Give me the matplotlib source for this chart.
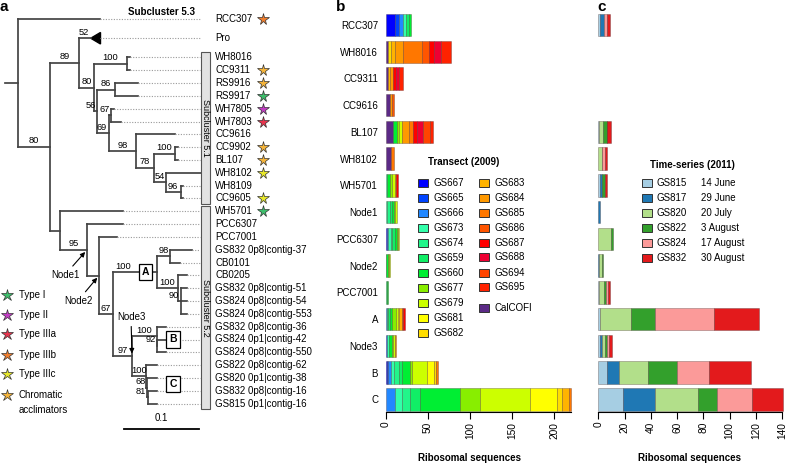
import numpy as np
import matplotlib.pyplot as plt
from matplotlib.patches import Rectangle, Polygon

plt.rcParams['font.family'] = ['Liberation Sans', 'DejaVu Sans']

W, H = 788, 463

# ---------------- bar data ----------------
rows = ['RCC307', 'WH8016', 'CC9311', 'CC9616', 'BL107', 'WH8102', 'WH5701',
        'Node1', 'PCC6307', 'Node2', 'PCC7001', 'A', 'Node3', 'B', 'C']

# transect 2009, ribosomal sequences per station, row order as above
calcofi = [0, 3, 2.4, 5, 9, 6, 0, 0, 0, 0, 0, 0, 0, 0, 0]
gs667 = [11, 0, 0, 0, 0, 0, 0, 0, 1, 0.5, 0, 0, 0, 1, 0]
gs665 = [4.5, 0, 0, 0, 0, 0, 0, 0, 0, 0, 0, 0, 2, 1.4, 0]
gs666 = [5, 0, 0, 0, 0, 0, 0, 0, 2, 0, 0, 1, 0, 3.5, 11]
gs673 = [4, 0, 0, 0, 0, 0, 2, 2, 3, 0, 0, 0, 2, 4, 8]
gs674 = [0, 0, 0, 0, 0, 0, 0, 3, 2, 0, 0, 2, 0, 6, 10]
gs659 = [3, 0, 0, 0, 0, 0, 0, 2, 3, 0, 1.2, 2, 0, 4, 12]
gs660 = [2, 0, 0, 0, 4.7, 0, 3, 3, 2, 2, 2, 3, 3, 8.6, 47]
gs677 = [0, 0, 0, 0, 2, 0, 3, 1.5, 1.5, 1, 0, 4, 2, 3, 24]
gs679 = [0, 0, 0, 0, 4, 0, 2.5, 1.5, 1.7, 1.6, 0, 3, 1.5, 17, 59]
gs681 = [0, 0, 0, 0, 0, 0, 0, 0, 0, 0, 0, 1, 0, 9, 32]
gs682 = [0, 3, 0, 0, 0, 0, 0, 0, 0, 0, 0, 0, 0, 2.4, 6]
gs683 = [0, 5, 2.8, 0, 0, 0, 1.5, 0, 0, 0, 0, 3, 0, 0, 8]
gs684 = [0, 10, 3, 3, 8.3, 0, 0, 0, 0, 0, 0, 0, 1.8, 0, 0]
gs685 = [0, 22, 0, 0, 4, 4, 0, 0, 0, 0, 0, 0, 0, 2, 3]
gs686 = [0, 8, 0, 2, 0, 0, 0, 0, 0, 0, 0, 2, 0, 0, 0]
gs687 = [0, 6, 4, 0, 4.7, 0, 2, 0, 0, 0, 0, 1.7, 0, 0, 0]
gs688 = [0, 9, 4, 0, 8, 0, 0, 0, 0, 0, 0, 0, 0, 0, 0]
gs694 = [0, 0, 0, 0, 8, 0, 0, 0, 0, 0, 0, 0, 0, 0, 0]
gs695 = [0, 11, 4.3, 0, 4, 0, 0, 0, 0, 0, 0, 0, 0, 0, 0]

transect_names = ['CalCOFI', 'GS667', 'GS665', 'GS666', 'GS673', 'GS674', 'GS659',
                  'GS660', 'GS677', 'GS679', 'GS681', 'GS682', 'GS683', 'GS684',
                  'GS685', 'GS686', 'GS687', 'GS688', 'GS694', 'GS695']
transect_values = [calcofi, gs667, gs665, gs666, gs673, gs674, gs659, gs660, gs677,
                   gs679, gs681, gs682, gs683, gs684, gs685, gs686, gs687, gs688,
                   gs694, gs695]
transect_colors = ['#5B2A86', '#0000FF', '#0044FF', '#2288FF', '#33FFAA', '#22F58A',
                   '#11EE66', '#00EE33', '#88EE00', '#CCFF00', '#FFFF00', '#FFDD00',
                   '#FFB300', '#FF9900', '#FF7700', '#FF5500', '#FF0000', '#EE0033',
                   '#FF4400', '#FF2200']

# time-series 2011
gs815 = [1.5, 0, 0, 0, 0.5, 0, 1.5, 0, 0, 0, 0.5, 1.3, 1.3, 6.9, 19]
gs817 = [2.5, 0, 0, 0, 0, 0, 1.5, 1, 0, 0.6, 0, 0, 1.3, 9.1, 24.4]
gs820 = [0, 0, 0, 0, 3, 2.5, 0, 0, 10, 2.2, 4, 23.4, 2.5, 21.6, 32.7]
gs822 = [0, 0, 0, 0, 3, 0.5, 2, 0, 1, 1, 1.5, 18.3, 1.3, 22.6, 14]
gs824 = [2.5, 0, 0, 0, 0.5, 2, 0, 0, 0, 0, 1.4, 44.7, 2, 24.4, 26.6]
gs832 = [2.5, 0, 0, 0, 3, 2, 2, 0, 0, 0, 1.5, 34.8, 2.3, 31.5, 24.1]

series_names = ['GS815', 'GS817', 'GS820', 'GS822', 'GS824', 'GS832']
series_dates = ['14 June', '29 June', '20 July', '3 August', '17 August', '30 August']
series_values = [gs815, gs817, gs820, gs822, gs824, gs832]
series_colors = ['#A6CEE3', '#1F78B4', '#B2DF8A', '#33A02C', '#FB9A99', '#E31A1C']


# ---------------- tree data ----------------
def leaf(name, bl, support=None, span=1, collapsed=False):
    return {'name': name, 'bl': bl, 'support': support, 'span': span,
            'collapsed': collapsed, 'kids': [], 'box': None, 'tag': None}


def clade(bl, support, *kids, box=None, tag=None):
    return {'name': None, 'bl': bl, 'support': support, 'kids': list(kids),
            'box': box, 'tag': tag, 'collapsed': False}


tree = clade(0, None,
    leaf('RCC307', 0.109),
    clade(0.043, 80,
        clade(0.039, 89,
            leaf('Pro', 0.015, support=52, span=2, collapsed=True),
            clade(0.019, 80,
                clade(0.045, 100, leaf('WH8016', 0.004), leaf('CC9311', 0.004)),
                clade(0.005, 56,
                    clade(0.023, 86, leaf('RS9916', 0.031), leaf('RS9917', 0.031)),
                    clade(0.015, 69,
                        clade(0.003, 67, leaf('WH7805', 0.004), leaf('WH7803', 0.013)),
                        clade(0.036, 98,
                            leaf('CC9616', 0.053),
                            clade(0.024, 78,
                                clade(0.029, 100, leaf('CC9902', 0.003), leaf('BL107', 0.003)),
                                clade(0.016, 54,
                                    leaf('WH8102', 0.047),
                                    clade(0.02, 96, leaf('WH8109', 0.003),
                                          leaf('CC9605', 0.003))))))))),
        clade(0.013, None,
            leaf('WH5701', 0.084),
            clade(0.036, 95,
                leaf('PCC6307', 0.048),
                clade(0.016, None,
                    leaf('PCC7001', 0.024),
                    clade(0.019, 67,
                        clade(0.059, 100,
                            clade(0.017, 98, leaf('GS832 0p8|contig-37', 0.029),
                                  leaf('CB0101', 0.013)),
                            clade(0.027, 100,
                                leaf('CB0205', 0.013),
                                clade(0.004, 90, leaf('GS832 0p8|contig-51', 0.009),
                                      leaf('GS824 0p8|contig-54', 0.009),
                                      leaf('GS824 0p8|contig-553', 0.009))),
                            box='A'),
                        clade(0.025, 97,
                            clade(0.033, 100,
                                leaf('GS832 0p8|contig-36', 0.013),
                                clade(0.001, 92, leaf('GS824 0p1|contig-42', 0.012),
                                      leaf('GS824 0p8|contig-550', 0.012)),
                                box='B'),
                            clade(0.019, 100,
                                leaf('GS822 0p8|contig-62', 0.015),
                                clade(0.001, 68,
                                    leaf('GS820 0p1|contig-38', 0.014),
                                    clade(0.001, 81, leaf('GS832 0p8|contig-16', 0.013),
                                          leaf('GS815 0p1|contig-16', 0.013))),
                                box='C'),
                            tag='Node3'),
                        ),
                    tag='Node2'),
                tag='Node1'))))

star_of = {'RCC307': 'Type IIIb', 'CC9311': 'Chromatic acclimators',
           'RS9916': 'Chromatic acclimators', 'RS9917': 'Type I', 'WH7805': 'Type II',
           'WH7803': 'Type IIIa', 'CC9902': 'Chromatic acclimators',
           'BL107': 'Chromatic acclimators', 'WH8102': 'Type IIIc',
           'CC9605': 'Type IIIc', 'WH5701': 'Type I'}
star_types = ['Type I', 'Type II', 'Type IIIa', 'Type IIIb', 'Type IIIc',
              'Chromatic acclimators']
star_colors = ['#3DBE6B', '#C23CC4', '#E8344E', '#F07E2E', '#E8E82A', '#F5B43A']
subclusters = [('Subcluster 5.1', 'WH8016', 'CC9605'),
               ('Subcluster 5.2', 'WH5701', 'GS815 0p1|contig-16')]

# ---------------- figure ----------------
fig = plt.figure(figsize=(W / 100, H / 100), dpi=100)


def fig_rect(x0, y0, x1, y1):
    return [x0 / W, 1 - y1 / H, (x1 - x0) / W, (y1 - y0) / H]


# overlay in pixel coordinates for legends / panel letters
ov = fig.add_axes([0, 0, 1, 1], zorder=5)
ov.set_xlim(0, W)
ov.set_ylim(H, 0)
ov.axis('off')

# ---- panel a ----
PX = 750.0       # pixels per substitution unit
ROW = 12.82      # pixels per tip
ax_a = fig.add_axes([0, 0, 270 / W, 1])
ax_a.set_xlim(-18 / PX, (270 - 18) / PX)
ax_a.set_ylim((H - 19) / ROW, -19 / ROW)
ax_a.axis('off')

LINE = dict(color='#444444', lw=1.25, solid_capstyle='projecting')
DOT_END = 0.2427
LABEL_X = 0.2627
STAR_X = 0.3267


def layout(node, x0, counter):
    node['px'] = x0
    node['x'] = x0 + node['bl']
    if not node['kids']:
        node['y'] = counter[0] + (node['span'] - 1) / 2
        counter[0] += node['span']
    else:
        for k in node['kids']:
            layout(k, node['x'], counter)
        node['y'] = (node['kids'][0]['y'] + node['kids'][-1]['y']) / 2


layout(tree, 0.0, [0])
leaves = {}
tags = {}


def leaves_of(node):
    if not node['kids']:
        return [node]
    out = []
    for k in node['kids']:
        out += leaves_of(k)
    return out


def draw(node):
    if node['tag']:
        tags[node['tag']] = node
    if node['kids']:
        ax_a.plot([node['x']] * 2, [node['kids'][0]['y'], node['kids'][-1]['y']], **LINE)
        for k in node['kids']:
            ax_a.plot([node['x'], k['x']], [k['y']] * 2, **LINE)
            draw(k)
    else:
        leaves[node['name']] = node
        end = node['x']
        if node['collapsed']:
            w = 0.013
            ax_a.add_patch(Polygon([(node['x'], node['y']), (node['x'] + w, node['y'] - 0.45),
                                    (node['x'] + w, node['y'] + 0.45)], closed=True,
                                   color='black'))
            end += w
        if end < DOT_END:
            ax_a.plot([end, DOT_END], [node['y']] * 2, color='#999999', lw=0.8,
                      linestyle=(0, (1, 1.4)))
        ax_a.text(LABEL_X, node['y'], node['name'], fontsize=7, va='center', ha='left')
    if node['support'] is not None:
        edge_px = (node['x'] - node['px']) * PX
        if node['box'] == 'A':
            ax_a.text(node['px'] + 0.22 * (node['x'] - node['px']), node['y'] - 0.12,
                      str(node['support']), fontsize=6.7, ha='center', va='bottom')
        elif edge_px >= 12:
            ax_a.text((node['px'] + node['x']) / 2, node['y'] - 0.12, str(node['support']),
                      fontsize=6.7, ha='center', va='bottom')
        else:
            ax_a.text(node['x'] - 1.5 / PX, node['y'] - 0.12, str(node['support']),
                      fontsize=6.7, ha='right', va='bottom')
    if node['box']:
        if node['box'] == 'A':
            bx, by = node['px'] + 0.73 * (node['x'] - node['px']), node['y']
        else:
            lv = leaves_of(node)
            bx, by = 0.207, np.mean([l['y'] for l in lv])
        ax_a.text(bx, by, node['box'], fontsize=7.5, fontweight='bold', ha='center',
                  va='center', zorder=4,
                  bbox=dict(boxstyle='square,pad=0.3', fc='white', ec='black', lw=0.9))


# root stub
ax_a.plot([-13 / PX, 0], [tree['y']] * 2, **LINE)
draw(tree)

# stars on tips
for name, kind in star_of.items():
    ax_a.plot(STAR_X, leaves[name]['y'], marker='*', ms=8.5, mec='#333333', mew=0.5,
              color=star_colors[star_types.index(kind)], zorder=4)

# subcluster bars
for label, first, last in subclusters:
    y0, y1 = leaves[first]['y'] - 0.4, leaves[last]['y'] + 0.4
    ax_a.add_patch(Rectangle((0.2445, y0), 0.012, y1 - y0, fc='#e2e2e2', ec='#555555',
                             lw=0.8, zorder=3))
    ax_a.text(0.2505, (y0 + y1) / 2, label, rotation=-90, fontsize=6.5, ha='center',
              va='center', zorder=4)

# node arrows
node_offsets = {'Node1': (-22, -25), 'Node2': (-21, -25), 'Node3': (-1, 39)}
for tag, (dx, dy) in node_offsets.items():
    n = tags[tag]
    ax_a.annotate(tag, xy=(n['x'], n['y']), xytext=(dx, dy), textcoords='offset pixels',
                  fontsize=7, ha='center', va='center',
                  arrowprops=dict(arrowstyle='-|>', color='black', lw=0.8,
                                  mutation_scale=7, shrinkA=1, shrinkB=2))

# scale bar
sb_x0 = (124 - 18) / PX
sb_y = (429 - 19) / ROW
ax_a.plot([sb_x0, sb_x0 + 0.1], [sb_y, sb_y], color='black', lw=1.3)
ax_a.text(sb_x0 + 0.05, sb_y - 0.45, '0.1', fontsize=7, ha='center', va='bottom')

ov.text(162, 12, 'Subcluster 5.3', fontsize=7, fontweight='bold', ha='center', va='center')

# star legend
star_leg_y = [295, 315, 334, 355, 374, 395]
for yy, lab, col in zip(star_leg_y, star_types, star_colors):
    ov.plot(7, yy, marker='*', ms=9, mec='#333333', mew=0.5, color=col)
    txt = 'Chromatic\nacclimators' if lab.startswith('Chromatic') else lab
    ov.text(19, yy - 5, txt, fontsize=7, ha='left', va='top', linespacing=1.6)

# ---- panels b and c ----
ypos = np.arange(len(rows))
YLIM = ((412 - 25) / 26.74, (8 - 25) / 26.74)
BAR_H = 0.84


def stacked(ax, series, colors):
    left = np.zeros(len(rows))
    for vals, col in zip(series, colors):
        v = np.asarray(vals, dtype=float)
        m = v > 0
        ax.barh(ypos[m], v[m], left=left[m], height=BAR_H, color=col,
                edgecolor=(0.2, 0.1, 0.1, 0.4), linewidth=0.5)
        left += v


def style_axis(ax, ticks, end):
    ax.set_ylim(*YLIM)
    for s in ['top', 'right', 'left']:
        ax.spines[s].set_visible(False)
    ax.spines['bottom'].set_bounds(0, end)
    ax.spines['bottom'].set_linewidth(0.8)
    ax.set_xticks(ticks)
    ax.tick_params(axis='x', length=5, width=0.8, labelsize=7.3, labelrotation=90, pad=2)


ax_b = fig.add_axes(fig_rect(385.7, 8, 385.7 + 245 * 0.843, 412))
stacked(ax_b, transect_values, transect_colors)
ax_b.set_xlim(0, 245)
style_axis(ax_b, [0, 50, 100, 150, 200], 220)
ax_b.set_yticks(ypos, rows)
ax_b.tick_params(axis='y', length=0, pad=5.5, labelsize=7)

ax_c = fig.add_axes(fig_rect(598.3, 8, 598.3 + 143 * 1.314, 412))
stacked(ax_c, series_values, series_colors)
ax_c.set_xlim(0, 143)
style_axis(ax_c, np.arange(0, 141, 20), 140)
ax_c.set_yticks([])

ov.text(470, 458, 'Ribosomal sequences', fontsize=7, fontweight='bold', ha='center', va='center')
ov.text(690, 458, 'Ribosomal sequences', fontsize=7, fontweight='bold', ha='center', va='center')

# transect legend
ov.text(464, 162, 'Transect (2009)', fontsize=7, fontweight='bold', ha='center', va='center')
left_col = transect_names[1:12]
right_col = transect_names[12:]
left_y = [182.7, 197.7, 212.7, 227.7, 243.3, 257.7, 272.7, 287.7, 302.7, 318.3, 333.3]
right_y = [182.7, 197.7, 212.7, 227.7, 242.7, 257.3, 272.7, 287.3]
for names, ys, bx in [(left_col, left_y, 423.3), (right_col, right_y, 484)]:
    for nm, yy in zip(names, ys):
        ov.add_patch(Rectangle((bx - 5, yy - 4), 10, 8,
                               fc=transect_colors[transect_names.index(nm)], ec='#333333', lw=0.7))
        ov.text(bx + 10.5, yy, nm, fontsize=7, va='center', ha='left')
ov.add_patch(Rectangle((484 - 5, 308.3 - 4), 10, 8, fc=transect_colors[0], ec='#333333', lw=0.7))
ov.text(494.5, 308.3, transect_names[0], fontsize=7, va='center', ha='left')

# time-series legend
ov.text(692, 165, 'Time-series (2011)', fontsize=7, fontweight='bold', ha='center', va='center')
ts_y = [182.7, 197.7, 212.7, 227.7, 243.3, 258.3]
for nm, dt, col, yy in zip(series_names, series_dates, series_colors, ts_y):
    ov.add_patch(Rectangle((646.7 - 5, yy - 4), 10, 8, fc=col, ec='#333333', lw=0.7))
    ov.text(656.7, yy, nm, fontsize=7, va='center', ha='left')
    ov.text(701, yy, dt, fontsize=7, va='center', ha='left')

# panel letters
ov.text(0, 7, 'a', fontsize=11, fontweight='bold', ha='left', va='center')
ov.text(336, 7, 'b', fontsize=11, fontweight='bold', ha='left', va='center')
ov.text(597, 7, 'c', fontsize=11, fontweight='bold', ha='left', va='center')

fig.savefig('out.png', dpi=100)
